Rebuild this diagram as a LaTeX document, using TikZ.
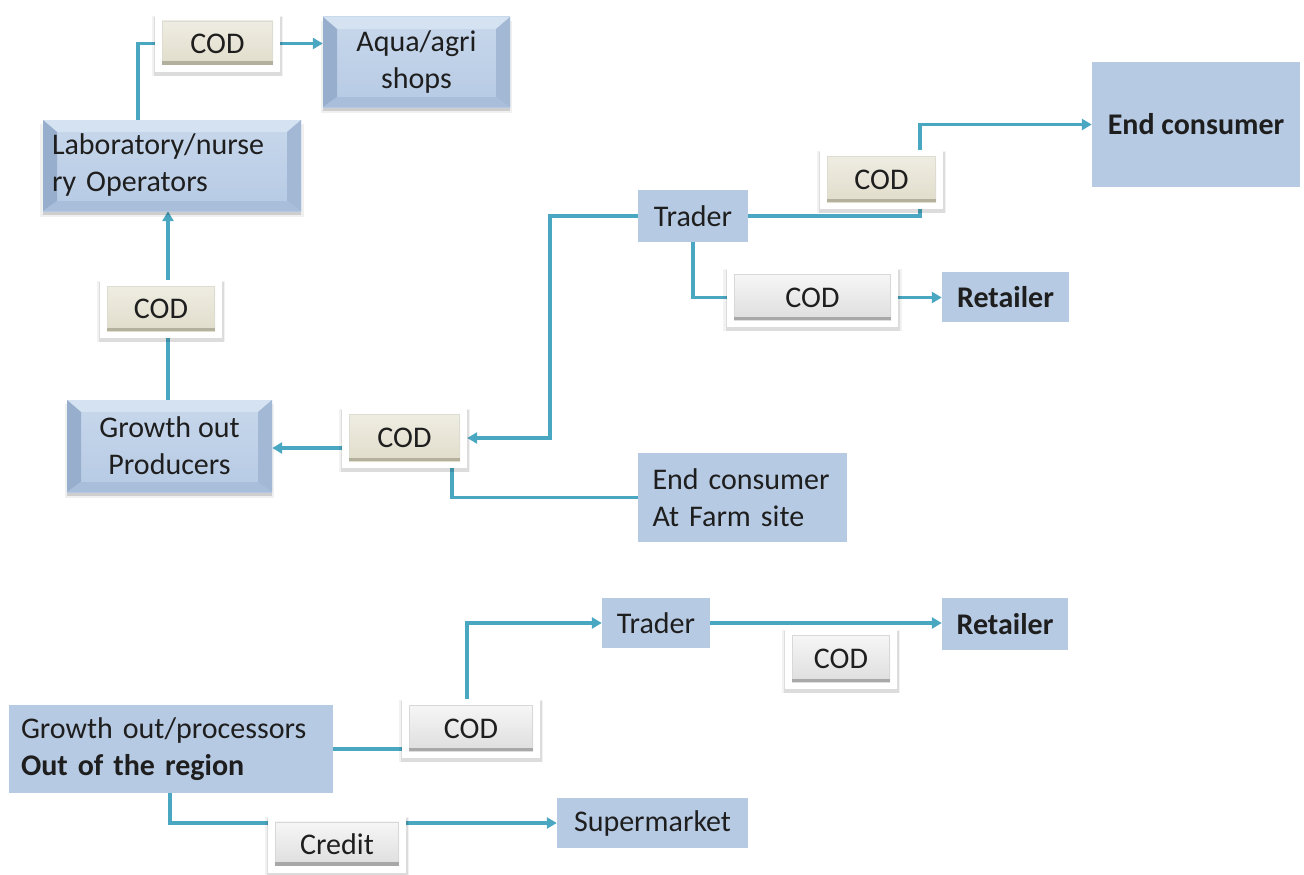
\documentclass[tikz,border=0pt]{standalone}
\usepackage{fontspec}
\setmainfont{Carlito}
\usetikzlibrary{arrows.meta,shadows}

\definecolor{link}{HTML}{4AA7C2}
\definecolor{flat}{HTML}{B7CAE3}
\definecolor{face}{HTML}{B6CAE4}
\definecolor{facetop}{HTML}{C8D8EC}
\definecolor{bevtop}{HTML}{D5E2F1}
\definecolor{bevleft}{HTML}{97AECC}
\definecolor{bevright}{HTML}{A2B8D5}
\definecolor{bevbot}{HTML}{A9BEDA}
\definecolor{creamtop}{HTML}{EFEDE2}
\definecolor{creambot}{HTML}{E0DDCB}
\definecolor{creamedge}{HTML}{B3B09E}
\definecolor{greytop}{HTML}{F6F6F6}
\definecolor{greybot}{HTML}{DEDEDE}
\definecolor{greyedge}{HTML}{A8A8A8}
\definecolor{ink}{HTML}{1E1E1E}

\pgfdeclarelayer{bg}
\pgfsetlayers{bg,main}

\tikzset{
  txt/.style={font=\fontsize{30pt}{37pt}\selectfont, text=ink, align=center},
  dims/.style 2 args={minimum width=#1pt, minimum height=#2pt},
  flatbox/.style={txt, fill=flat, inner sep=0pt},
  softshade/.style={
    general shadow={fill=black, opacity=.05, shadow xshift=0pt, shadow yshift=-2.5pt, shadow scale=1.05},
    general shadow={fill=black, opacity=.09, shadow xshift=0.5pt, shadow yshift=-3pt, shadow scale=1.02}},
  bevelbox/.style={txt, inner sep=0pt, top color=facetop, bottom color=face,
    general shadow={fill=black, opacity=.06, shadow xshift=0pt, shadow yshift=-5pt, shadow scale=1.02},
    general shadow={fill=black, opacity=.14, shadow xshift=0pt, shadow yshift=-3.5pt},
    path picture={
      \coordinate (pNW) at (path picture bounding box.north west);
      \coordinate (pNE) at (path picture bounding box.north east);
      \coordinate (pSE) at (path picture bounding box.south east);
      \coordinate (pSW) at (path picture bounding box.south west);
      \fill[bevtop] (pNW) -- (pNE) -- ([shift={(-14pt,-12pt)}]pNE) -- ([shift={(14pt,-12pt)}]pNW) -- cycle;
      \fill[bevleft] (pNW) -- ([shift={(14pt,-12pt)}]pNW) -- ([shift={(14pt,10pt)}]pSW) -- (pSW) -- cycle;
      \fill[bevright] (pNE) -- ([shift={(-14pt,-12pt)}]pNE) -- ([shift={(-14pt,10pt)}]pSE) -- (pSE) -- cycle;
      \fill[bevbot] (pSW) -- ([shift={(14pt,10pt)}]pSW) -- ([shift={(-14pt,10pt)}]pSE) -- (pSE) -- cycle;
    }},
  codbox/.style={txt, fill=white, inner sep=0pt, softshade,
    path picture={
      \coordinate (pNW) at (path picture bounding box.north west);
      \coordinate (pSE) at (path picture bounding box.south east);
      \coordinate (pSW) at (path picture bounding box.south west);
      \shade[top color=#1top, bottom color=#1bot] ([shift={(7pt,-6pt)}]pNW) rectangle ([shift={(-7pt,7pt)}]pSE);
      \draw[#1edge!45, line width=0.8pt] ([shift={(7.4pt,-6.4pt)}]pNW) rectangle ([shift={(-7.4pt,7.4pt)}]pSE);
      \fill[#1edge] ([shift={(7pt,7pt)}]pSW) rectangle ([shift={(-7pt,10.5pt)}]pSE);
    }},
  conn/.style={draw=link, line width=3.5pt},
  arr/.style={conn, -{Triangle[length=10pt,width=11pt]}}
}

\begin{document}
\begin{tikzpicture}[x=1pt,y=-1pt]
\useasboundingbox (0,0) rectangle (1304,875);

% bevelled boxes
\node[bevelbox, dims={187}{90}] (aqua) at (416.5,62) {Aqua/agri\\shops};
\node[bevelbox, dims={258}{91}, align=left, text width=240pt] (lab) at (172,165.5) {Laboratory/nurse\\ry Operators};
\node[bevelbox, dims={205}{92}] (grow) at (169.5,446) {Growth out\\Producers};

% flat boxes
\node[flatbox, dims={110}{52}] (trader1) at (693,216) {Trader};
\node[flatbox, dims={208}{125}] (endc) at (1196,124.5) {\textbf{End consumer}};
\node[flatbox, dims={127}{50}] (ret1) at (1005.5,297) {\textbf{Retailer}};
\node[flatbox, dims={209}{89}, align=left, text width=180pt] (farm) at (742.5,497.5) {End consumer\\At Farm site};
\node[flatbox, dims={108}{50}] (trader2) at (656,623) {Trader};
\node[flatbox, dims={126}{52}] (ret2) at (1005,624) {\textbf{Retailer}};
\node[flatbox, dims={324}{88}, align=left, text width=300pt] (proc) at (171,749) {Growth out/processors\\\textbf{Out of the region}};
\node[flatbox, dims={191}{50}] (super) at (652.5,823) {Supermarket};

% payment terms
\node[codbox=cream, dims={125}{57}] (codA) at (217.5,43.5) {COD};
\node[codbox=cream, dims={122}{58}] (codB) at (161,309) {COD};
\node[codbox=cream, dims={125}{60}] (codC) at (404.5,438) {COD};
\node[codbox=cream, dims={123}{59}] (codD) at (881.5,179.5) {COD};
\node[codbox=grey, dims={171}{59}] (codE) at (812.5,297.5) {COD};
\node[codbox=grey, dims={112}{60}] (codF) at (841,659) {COD};
\node[codbox=grey, dims={138}{59}] (codG) at (471,728.5) {COD};
\node[codbox=grey, dims={138}{57}] (credit) at (337,844) {Credit};

% connectors, behind the boxes
\begin{pgfonlayer}{bg}
\draw[conn] ([xshift=-34pt]lab.north) |- (codA.west);
\draw[arr] (codA.east) -- (codA.east -| aqua.west);

\coordinate (gTop) at ([xshift=-1.5pt]grow.north);
\draw[arr] (gTop) -- (gTop |- lab.south);

\draw[arr] (trader1.west) -- ++(-88pt,0pt) |- (codC.east);
\coordinate (cL) at ([yshift=-10pt]codC.west);
\draw[arr] (cL) -- (cL -| grow.east);
\coordinate (cB) at ([xshift=47.5pt]codC.south);
\draw[conn] (cB) |- (farm.west);

\coordinate (dB) at ([xshift=38.5pt]codD.south);
\coordinate (dT) at ([xshift=38.5pt]codD.north);
\draw[conn] (trader1.east) -| (dB);
\draw[arr] (dT) |- (endc.west);

\draw[conn] (trader1.south) |- (codE.west);
\draw[arr] (codE.east) -- (codE.east -| ret1.west);

\draw[conn] (proc.east) -- (proc.east -| codG.west);
\coordinate (gT) at ([xshift=-4pt]codG.north);
\draw[arr] (gT) |- (trader2.west);
\draw[arr] (trader2.east) -- (trader2.east -| ret2.west);

\coordinate (pB) at ([xshift=-1pt]proc.south);
\draw[arr] (pB) |- (super.west);
\end{pgfonlayer}
\end{tikzpicture}
\end{document}
